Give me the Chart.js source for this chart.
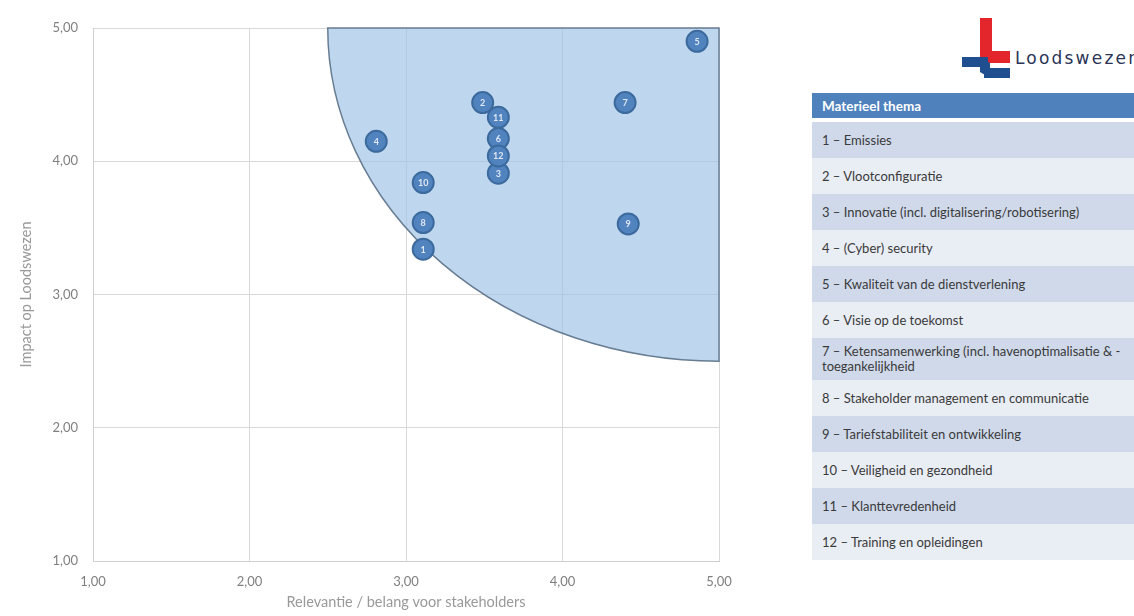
<!DOCTYPE html>
<html>
<head>
<meta charset="utf-8">
<script src="https://cdn.jsdelivr.net/npm/chart.js@4.4.1/dist/chart.umd.min.js"></script>
<style>
  html, body { margin: 0; padding: 0; background: #fff; overflow: hidden; }
  body { width: 1134px; height: 616px; position: relative; font-family: Lato, "Open Sans", sans-serif; }
  #chartBox { position: absolute; left: 0; top: 0; width: 760px; height: 616px; }
  #logo { position: absolute; left: 950px; top: 10px; width: 184px; height: 75px; overflow: hidden; }
  #logo .bar { position: absolute; }
  #logo .word { position: absolute; left: 65px; top: 38px; font-size: 17px; letter-spacing: 2.2px; color: #2a3556; font-family: "DejaVu Sans", sans-serif; white-space: nowrap; }
  #legendTable { position: absolute; left: 812px; top: 93px; width: 370px; border-collapse: separate; border-spacing: 0; font-size: 13px; color: #3a3a3a; }
  #legendTable th { background: #4f81bd; color: #fff; text-align: left; font-weight: bold; font-size: 13.5px; height: 25px; padding: 0 10px; }
  #legendTable td { height: 36px; padding: 0 10px; line-height: 15px; white-space: nowrap; }
  #legendTable tbody tr:first-child td { border-top: 4px solid #fff; }
  #legendTable tr.odd td { background: #cfd9ea; }
  #legendTable tr.even td { background: #e9edf4; }
</style>
</head>
<body>
<div id="chartBox"><canvas id="materialityChart"></canvas></div>
<div id="logo">
  <div class="bar" style="left:30px;top:8px;width:12px;height:45px;background:#e2262c"></div>
  <div class="bar" style="left:30px;top:41px;width:30px;height:12px;background:#e2262c"></div>
  <div class="bar" style="left:12px;top:47px;width:26px;height:10px;background:#1f4f8f"></div>
  <div class="bar" style="left:34px;top:58px;width:26px;height:10px;background:#1f4f8f"></div>
  <div class="bar" style="left:30px;top:50px;width:10px;height:15px;background:#1f4f8f;transform:skewY(30deg)"></div>
  <div class="word">Loodswezen</div>
</div>
<table id="legendTable"><thead><tr><th>Materieel thema</th></tr></thead><tbody></tbody></table>
<script>
// thema's (nummer + naam)
const themeIds = [1, 2, 3, 4, 5, 6, 7, 8, 9, 10, 11, 12];
const themeNames = [
  'Emissies',
  'Vlootconfiguratie',
  'Innovatie (incl. digitalisering/robotisering)',
  '(Cyber) security',
  'Kwaliteit van de dienstverlening',
  'Visie op de toekomst',
  'Ketensamenwerking (incl. havenoptimalisatie & -<br>toegankelijkheid',
  'Stakeholder management en communicatie',
  'Tariefstabiliteit en ontwikkeling',
  'Veiligheid en gezondheid',
  'Klanttevredenheid',
  'Training en opleidingen'
];
// relevantie / belang voor stakeholders (x)
const relevance = [3.11, 3.49, 3.59, 2.81, 4.86, 3.59, 4.40, 3.11, 4.42, 3.11, 3.59, 3.59];
// impact op Loodswezen (y)
const impact = [3.34, 4.44, 3.91, 4.15, 4.90, 4.17, 4.44, 3.54, 3.53, 3.84, 4.33, 4.04];
const axisTicks = [1, 2, 3, 4, 5];
// materieel gebied: kwart cirkel rond (5,5)
const zoneCenter = [5, 5];
const zoneRadius = 2.5;

const tbody = document.querySelector('#legendTable tbody');
themeIds.forEach(function (id, i) {
  const tr = document.createElement('tr');
  tr.className = (i % 2 === 0) ? 'odd' : 'even';
  if (id === 7) tr.innerHTML = '<td style="height:42px">' + id + ' \u2013 ' + themeNames[i] + '</td>';
  else tr.innerHTML = '<td>' + id + ' \u2013 ' + themeNames[i] + '</td>';
  tbody.appendChild(tr);
});

const fmt = v => v.toFixed(2).replace('.', ',');

const zonePlugin = {
  id: 'zone',
  beforeDatasetsDraw(chart) {
    const { ctx, chartArea, scales: { x, y } } = chart;
    const cx = x.getPixelForValue(zoneCenter[0]);
    const cy = y.getPixelForValue(zoneCenter[1]);
    const rx = cx - x.getPixelForValue(zoneCenter[0] - zoneRadius);
    const ry = y.getPixelForValue(zoneCenter[1] - zoneRadius) - cy;
    ctx.save();
    ctx.beginPath();
    ctx.rect(chartArea.left, chartArea.top - 1, chartArea.width + 1, chartArea.height + 1);
    ctx.clip();
    ctx.beginPath();
    ctx.moveTo(cx, cy);
    ctx.ellipse(cx, cy, rx, ry, 0, Math.PI / 2, Math.PI);
    ctx.closePath();
    ctx.fillStyle = 'rgba(155,194,230,0.65)';
    ctx.fill();
    ctx.lineWidth = 1.5;
    ctx.strokeStyle = '#687d92';
    ctx.stroke();
    ctx.restore();
  }
};

const labelPlugin = {
  id: 'bubbleLabels',
  afterDatasetsDraw(chart) {
    const ctx = chart.ctx;
    const meta = chart.getDatasetMeta(0);
    ctx.save();
    ctx.font = 'bold 9px Lato, sans-serif';
    ctx.fillStyle = '#dfe8f3';
    ctx.textAlign = 'center';
    ctx.textBaseline = 'middle';
    meta.data.forEach(function (pt, i) {
      ctx.fillText(String(themeIds[i]), pt.x, pt.y + 0.5);
    });
    ctx.restore();
  }
};

new Chart(document.getElementById('materialityChart'), {
  type: 'scatter',
  plugins: [zonePlugin, labelPlugin],
  data: {
    datasets: [{
      data: relevance.map((v, i) => ({ x: v, y: impact[i] })),
      backgroundColor: '#5183bf',
      borderColor: '#3c6a9c',
      borderWidth: 2,
      pointRadius: 10.5,
      pointHoverRadius: 10.5
    }]
  },
  options: {
    responsive: true,
    maintainAspectRatio: false,
    animation: false,
    layout: { padding: { left: 0, right: 41, top: 28, bottom: 0 } },
    plugins: { legend: { display: false }, tooltip: { enabled: false } },
    scales: {
      x: {
        type: 'linear', min: 1, max: 5,
        afterBuildTicks: s => { s.ticks = axisTicks.map(v => ({ value: v })); },
        afterFit: s => { s.height = 55; },
        grid: { color: '#d9d9d9', lineWidth: 1, drawTicks: false },
        border: { color: '#d0d0d0' },
        ticks: { padding: 13, color: '#7f7f7f', font: { family: 'Lato', size: 13 }, callback: v => fmt(v) },
        title: { display: true, text: 'Relevantie / belang voor stakeholders', color: '#999999', font: { family: 'Lato', size: 14.5 }, padding: { top: 0, bottom: 5 } }
      },
      y: {
        type: 'linear', min: 1, max: 5,
        afterBuildTicks: s => { s.ticks = axisTicks.map(v => ({ value: v })); },
        afterFit: s => { s.width = 93; },
        grid: { color: '#d9d9d9', lineWidth: 1, drawTicks: false },
        border: { color: '#d0d0d0' },
        ticks: { padding: 15, color: '#7f7f7f', font: { family: 'Lato', size: 13 }, callback: v => fmt(v) },
        title: { display: true, text: 'Impact op Loodswezen', color: '#999999', font: { family: 'Lato', size: 14.5 }, padding: { top: 18, bottom: 0 } }
      }
    }
  }
});
</script>
</body>
</html>
